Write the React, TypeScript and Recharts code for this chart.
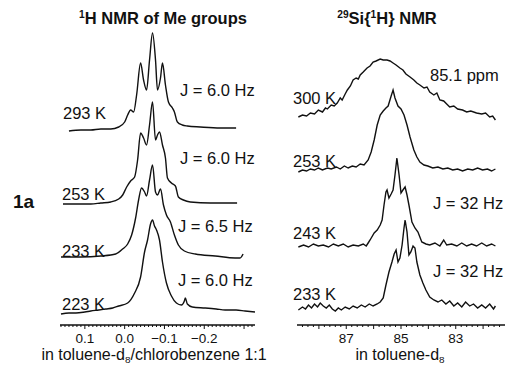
import React from "react";
import { LineChart, Line, XAxis, YAxis } from "recharts";

// [ppm, intensity]
const H1_293K = [
  [0.14, -1], [0.11, 0], [0.085, 0], [0.06, 1], [0.035, 1], [0.015, 3], [0.0, 8],
  [-0.0075, 15], [-0.015, 20], [-0.0225, 18], [-0.03, 35], [-0.04, 67], [-0.0475, 50],
  [-0.055, 40], [-0.0625, 70], [-0.07, 97], [-0.0775, 70], [-0.0825, 40], [-0.09, 52],
  [-0.095, 67], [-0.1025, 45], [-0.11, 28], [-0.12, 22], [-0.125, 18], [-0.1325, 8],
  [-0.145, 5], [-0.1575, 4], [-0.19, 3], [-0.24, 2], [-0.28, 2],
];
const H1_253K = [
  [0.155, 0], [0.12, 0], [0.085, 0], [0.06, 1], [0.035, 2], [0.015, 5], [0.005, 9],
  [-0.005, 17], [-0.015, 23], [-0.025, 27], [-0.0325, 44], [-0.04, 71], [-0.0475, 66],
  [-0.055, 59], [-0.0625, 79], [-0.07, 102], [-0.0775, 64], [-0.0825, 69], [-0.0875, 72],
  [-0.095, 59], [-0.1025, 46], [-0.1075, 26], [-0.1175, 21], [-0.1275, 18], [-0.135, 7],
  [-0.1475, 4], [-0.165, 2], [-0.215, 1], [-0.2825, 1],
];
const H1_233K = [
  [0.16, 0], [0.11, 0], [0.06, 1], [0.0225, 3], [0.005, 8], [-0.0075, 13], [-0.0175, 22],
  [-0.0275, 39], [-0.035, 57], [-0.0425, 69], [-0.05, 65], [-0.055, 61], [-0.0625, 77],
  [-0.07, 92], [-0.0775, 65], [-0.0825, 62], [-0.09, 68], [-0.0975, 52], [-0.105, 42],
  [-0.115, 35], [-0.125, 22], [-0.135, 12], [-0.15, 6], [-0.1775, 3], [-0.2275, 1],
  [-0.2775, -1], [-0.29, -1], [-0.2975, 3],
];
const H1_223K = [
  [0.16, -2], [0.14, -1], [0.1225, -1], [0.1, 0], [0.085, 1], [0.065, 2], [0.0475, 3],
  [0.03, 4], [0.015, 6], [-0.0075, 9], [-0.025, 19], [-0.04, 35], [-0.05, 60],
  [-0.0575, 72], [-0.065, 88], [-0.07, 92], [-0.075, 86], [-0.08, 82], [-0.0875, 72],
  [-0.095, 50], [-0.105, 29], [-0.1175, 16], [-0.13, 9], [-0.1425, 7], [-0.15, 11],
  [-0.1525, 14], [-0.1575, 8], [-0.17, 5], [-0.2025, 4], [-0.23, 3], [-0.2525, 2],
  [-0.28, 2], [-0.3025, 1], [-0.3275, 0],
];

const SI_300K = [
  [88.75, 1], [88.6, 3], [88.45, 2], [88.31, 5], [88.16, 4], [88.02, 8], [87.87, 6],
  [87.76, 10], [87.69, 9], [87.55, 13], [87.44, 12], [87.33, 15], [87.22, 20], [87.15, 18],
  [87.04, 24], [86.96, 28], [86.85, 32], [86.75, 38], [86.64, 40], [86.56, 39], [86.49, 43],
  [86.38, 46], [86.24, 50], [86.13, 52], [86.02, 56], [85.91, 57], [85.76, 59], [85.65, 58],
  [85.51, 58], [85.4, 57], [85.29, 55], [85.18, 53], [85.04, 50], [84.93, 48], [84.82, 44],
  [84.67, 41], [84.53, 38], [84.42, 35], [84.31, 33], [84.16, 30], [84.05, 31], [83.95, 26],
  [83.8, 23], [83.69, 25], [83.58, 18], [83.44, 17], [83.33, 14], [83.22, 11], [83.07, 12],
  [82.93, 9], [82.75, 8], [82.6, 6], [82.45, 7], [82.24, 5], [82.05, 4], [81.91, 5],
  [81.76, 1], [81.65, 2], [81.55, -2],
];
const SI_253K = [
  [88.75, -2], [88.6, 0], [88.45, -1], [88.31, 1], [88.16, 0], [88.02, 2], [87.87, 0],
  [87.69, 2], [87.55, 1], [87.36, 3], [87.22, 1], [87.07, 4], [86.93, 2], [86.78, 4],
  [86.64, 3], [86.49, 6], [86.35, 5], [86.2, 10], [86.09, 18], [85.98, 30], [85.87, 45],
  [85.76, 55], [85.65, 59], [85.55, 62], [85.47, 64], [85.36, 74], [85.29, 80], [85.22, 72],
  [85.11, 64], [85.0, 61], [84.89, 55], [84.78, 45], [84.67, 33], [84.53, 20], [84.42, 13],
  [84.31, 8], [84.16, 5], [84.02, 4], [83.84, 2], [83.65, 3], [83.47, 1], [83.29, 2],
  [83.11, 0], [82.93, 1], [82.75, -1], [82.56, 1], [82.38, 0], [82.2, 2], [82.02, 0],
  [81.84, 1], [81.69, -1], [81.55, 1],
];
const SI_243K = [
  [88.75, -1], [88.56, 1], [88.38, -1], [88.2, 2], [88.02, 0], [87.84, 1], [87.65, -1],
  [87.47, 2], [87.29, 0], [87.11, 2], [86.93, -1], [86.75, 1], [86.56, 0], [86.38, 2],
  [86.27, 0], [86.2, 3], [86.13, 6], [85.98, 13], [85.87, 16], [85.76, 21], [85.69, 26],
  [85.62, 41], [85.55, 54], [85.51, 56], [85.44, 48], [85.36, 52], [85.29, 56], [85.22, 71],
  [85.15, 88], [85.07, 71], [85.0, 53], [84.93, 56], [84.85, 59], [84.78, 51], [84.71, 41],
  [84.6, 24], [84.49, 18], [84.38, 14], [84.24, 4], [84.09, 2], [83.95, 1], [83.76, 3],
  [83.58, 0], [83.44, 6], [83.33, 1], [83.15, 2], [82.96, 0], [82.78, 3], [82.6, 0],
  [82.42, 2], [82.24, 0], [82.05, 3], [81.87, 0], [81.69, 2], [81.55, 0],
];
const SI_233K = [
  [88.75, -1], [88.6, 2], [88.49, 0], [88.38, 4], [88.27, 1], [88.16, 5], [88.05, 2],
  [87.95, 6], [87.84, 3], [87.73, 1], [87.62, 4], [87.51, 0], [87.4, -2], [87.29, 1],
  [87.18, -1], [87.04, 2], [86.89, 0], [86.75, 3], [86.6, 1], [86.45, 4], [86.31, 2],
  [86.16, 5], [86.02, 3], [85.87, 5], [85.76, 7], [85.65, 11], [85.55, 24], [85.44, 37],
  [85.33, 47], [85.25, 55], [85.18, 59], [85.11, 47], [85.04, 51], [84.96, 64], [84.89, 81],
  [84.85, 89], [84.78, 77], [84.71, 54], [84.64, 57], [84.56, 63], [84.49, 61], [84.42, 47],
  [84.31, 34], [84.2, 26], [84.09, 19], [83.95, 12], [83.8, 9], [83.65, 7], [83.51, 9],
  [83.36, 5], [83.22, 8], [83.07, 3], [82.93, 6], [82.78, 2], [82.64, 7], [82.49, 3],
  [82.35, 5], [82.2, 1], [82.05, 4], [81.91, 1], [81.76, 5], [81.62, 0], [81.55, 3],
];

const H1_MAJOR = [0.1, 0, -0.1, -0.2, -0.3];
const H1_LABELS = ["0.1", "0.0", "\u22120.1", "\u22120.2", ""];
const SI_MAJOR = [88, 87, 86, 85, 84, 83, 82];
const SI_LABELS = ["", "87", "", "85", "", "83", ""];

const INK = "#111";
const FONT = '"Liberation Sans", Arial, Helvetica, sans-serif';

function toPoints(spec: number[][], base: number) {
  return spec.map(([x, h]) => ({ x, y: h + base }));
}

function makeTick(majors: number[], labels: string[]) {
  return (props: any) => {
    const { x, y, payload } = props;
    const i = majors.findIndex((m) => Math.abs(m - payload.value) < 1e-6);
    const major = i >= 0;
    return (
      <g>
        <line x1={x} x2={x} y1={y} y2={y + (major ? 4 : 2)} stroke={INK} strokeWidth={1} />
        {major && labels[i] && (
          <text x={x} y={y + 18} textAnchor="middle" fontSize={13.5} fontFamily={FONT} fill={INK}>
            {labels[i]}
          </text>
        )}
      </g>
    );
  };
}

const h1Ticks: number[] = [];
for (let k = 16; k >= -32; k--) h1Ticks.push(k / 100);
const siTicks: number[] = [];
for (let k = 443; k >= 407; k--) siTicks.push(k / 5);

function Txt({ x, y, children, size = 16.5, bold = false, center = false }: any) {
  return (
    <div
      style={{
        position: "absolute",
        left: x,
        top: y,
        transform: `translate(${center ? "-50%" : "0"}, -50%)`,
        whiteSpace: "nowrap",
        lineHeight: 1,
        fontSize: size,
        fontWeight: bold ? "bold" : "normal",
        fontFamily: FONT,
        color: INK,
      }}
    >
      {children}
    </div>
  );
}

const sup = { fontSize: "0.62em", verticalAlign: "0.55em", lineHeight: 0 };
const sub = { fontSize: "0.62em", verticalAlign: "-0.3em", lineHeight: 0 };

function Spectra({ width, left, right, domain, ticks, tickFn, series, curve }: any) {
  return (
    <LineChart width={width} height={365} margin={{ top: 25, right, bottom: 0, left }}>
      <XAxis
        dataKey="x"
        type="number"
        domain={domain}
        reversed
        allowDataOverflow
        ticks={ticks}
        interval={0}
        tickSize={0}
        tickMargin={0}
        tickLine={false}
        tick={tickFn}
        height={40}
        axisLine={{ stroke: INK, strokeWidth: 1.5 }}
      />
      <YAxis hide domain={[0, 300]} allowDataOverflow />
      {series.map((s: any) => (
        <Line
          key={s.name}
          data={s.points}
          dataKey="y"
          type={curve}
          stroke={INK}
          strokeWidth={1.4}
          dot={false}
          isAnimationActive={false}
        />
      ))}
    </LineChart>
  );
}

export default function App() {
  const h1Series = [
    { name: "293K", points: toPoints(H1_293K, 195) },
    { name: "253K", points: toPoints(H1_253K, 121) },
    { name: "233K", points: toPoints(H1_233K, 68) },
    { name: "223K", points: toPoints(H1_223K, 13) },
  ];
  const siSeries = [
    { name: "300K", points: toPoints(SI_300K, 207) },
    { name: "253K", points: toPoints(SI_253K, 155) },
    { name: "243K", points: toPoints(SI_243K, 79) },
    { name: "233K", points: toPoints(SI_233K, 16) },
  ];
  return (
    <div style={{ position: "absolute", left: 0, top: 0, width: 507, height: 365, background: "#fff", overflow: "hidden" }}>
      <div style={{ position: "absolute", left: 0, top: 0 }}>
        <Spectra
          width={260}
          left={60}
          right={5}
          domain={[-0.3275, 0.1625]}
          ticks={h1Ticks}
          tickFn={makeTick(H1_MAJOR, H1_LABELS)}
          series={h1Series}
          curve="monotone"
        />
      </div>
      <div style={{ position: "absolute", left: 260, top: 0 }}>
        <Spectra
          width={247}
          left={37}
          right={2}
          domain={[81.2, 88.8]}
          ticks={siTicks}
          tickFn={makeTick(SI_MAJOR, SI_LABELS)}
          series={siSeries}
          curve="linear"
        />
      </div>

      <Txt x={163} y={18} bold center>
        <span style={sup}>1</span>H NMR of Me groups
      </Txt>
      <Txt x={387} y={18} bold center>
        <span style={sup}>29</span>Si{"{"}<span style={sup}>1</span>H{"}"} NMR
      </Txt>
      <Txt x={13} y={201} size={19} bold>1a</Txt>

      <Txt x={180} y={90}>J = 6.0 Hz</Txt>
      <Txt x={63} y={113}>293 K</Txt>
      <Txt x={180} y={158}>J = 6.0 Hz</Txt>
      <Txt x={62} y={194}>253 K</Txt>
      <Txt x={178} y={226}>J = 6.5 Hz</Txt>
      <Txt x={62} y={251}>233 K</Txt>
      <Txt x={178} y={280}>J = 6.0 Hz</Txt>
      <Txt x={62} y={304}>223 K</Txt>

      <Txt x={430} y={75}>85.1 ppm</Txt>
      <Txt x={293} y={98}>300 K</Txt>
      <Txt x={293} y={161}>253 K</Txt>
      <Txt x={433} y={203}>J = 32 Hz</Txt>
      <Txt x={293} y={233}>243 K</Txt>
      <Txt x={433} y={271}>J = 32 Hz</Txt>
      <Txt x={293} y={294}>233 K</Txt>

      <Txt x={154} y={355} size={16} center>
        in toluene-d<span style={sub}>8</span>/chlorobenzene 1:1
      </Txt>
      <Txt x={400} y={355} size={16} center>
        in toluene-d<span style={sub}>8</span>
      </Txt>
    </div>
  );
}
